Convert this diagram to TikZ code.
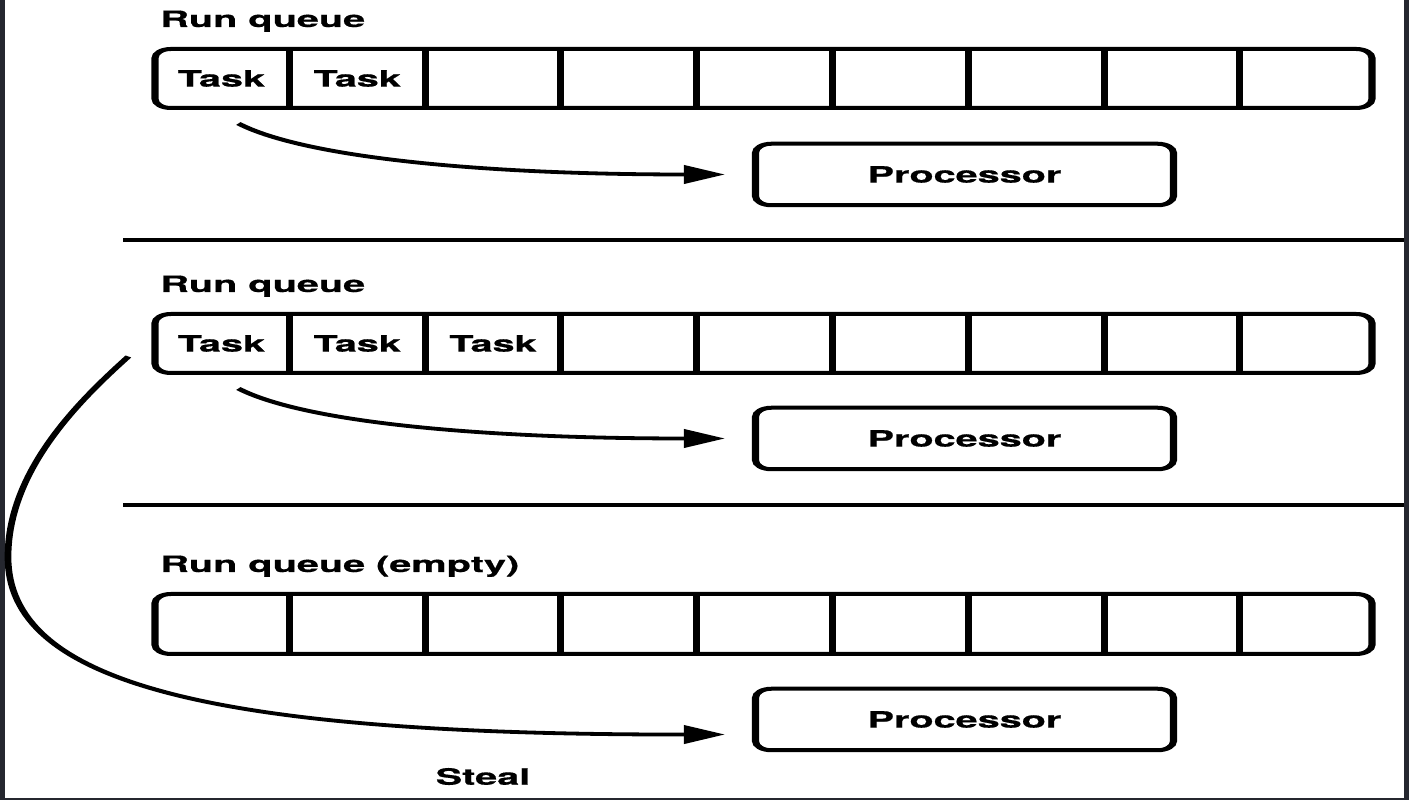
\documentclass[tikz,border=0pt]{standalone}
\usepackage{fontspec}
\setmainfont{TeX Gyre Heros}[BoldFeatures={FakeBold=0.5}]
\usetikzlibrary{arrows.meta,calc}
\definecolor{framecol}{HTML}{25272F}
\tikzset{
  lw/.style={line width=4pt},
  qbox/.style={draw, line width=4pt, rounded corners=9pt},
  txt/.style={font=\bfseries\fontsize{22.5}{27}\selectfont, inner sep=0pt},
  proc/.style={draw, line width=4pt, rounded corners=9pt, minimum width=237.5pt,
    minimum height=61.5pt, inner sep=0pt, font=\bfseries\fontsize{22.5}{27}\selectfont},
  arr/.style={line width=3.8pt, -{Triangle[length=23.3pt,width=18pt]}},
}
\begin{document}
\begin{tikzpicture}
\useasboundingbox (0,0) rectangle (1409pt,800pt);
\fill[framecol] (0,0) rectangle (1409pt,800pt);
\fill[white] (5pt,1.5pt) rectangle (1404pt,800pt);
\begin{scope}[transform canvas={xscale=1.76}, x=0.568182pt, y=-1pt, yshift=800pt]
  % labels
  \node[txt, anchor=base west] (rq1) at (160,27) {Run queue};
  \node[txt, anchor=base west] (rq2) at (160,292) {Run queue};
  \node[txt, anchor=base west] (rq3) at (160,572) {Run queue (empty)};
  % queues
  \draw[qbox] (155,49) rectangle (1372,108);
  \draw[qbox] (155,314) rectangle (1372,373);
  \draw[qbox] (155,594) rectangle (1372,654);
  \foreach \i in {1,...,8} {
    \draw[lw] ({153.5+\i*135.8},49) -- ({153.5+\i*135.8},108);
    \draw[lw] ({153.5+\i*135.8},314) -- ({153.5+\i*135.8},373);
    \draw[lw] ({153.5+\i*135.8},594) -- ({153.5+\i*135.8},654);
  }
  % tasks
  \node[txt] (t11) at (221.4,78.5) {Task};
  \node[txt] (t12) at (357.2,78.5) {Task};
  \node[txt] (t21) at (221.4,343.5) {Task};
  \node[txt] (t22) at (357.2,343.5) {Task};
  \node[txt] (t23) at (493.0,343.5) {Task};
  % dividers
  \draw[lw] (123,240) -- (1404,240);
  \draw[lw] (123,505) -- (1404,505);
  % processors
  \node[proc] (p1) at (964.5,174.5) {Processor};
  \node[proc] (p2) at (964.5,438.5) {Processor};
  \node[proc] (p3) at (964.5,719.5) {Processor};
  % arrows
  \coordinate (s1) at ($(t11)+(17,45)$);
  \coordinate (e1) at ($(p1.west)+(-27,0)$);
  \draw[arr] (s1) .. controls ($(s1)+(62,32)$) and ($(e1)+(-258,0)$) .. (e1);
  \coordinate (s2) at ($(t21)+(17,45)$);
  \coordinate (e2) at ($(p2.west)+(-27,0)$);
  \draw[arr] (s2) .. controls ($(s2)+(62,32)$) and ($(e2)+(-258,0)$) .. (e2);
  \coordinate (s3) at ($(t21)+(-93,13)$);
  \coordinate (m3) at (8,557);
  \coordinate (e3) at ($(p3.west)+(-27,15)$);
  \draw[arr] (s3) .. controls (80,400) and (8,470) .. (m3)
             .. controls (8,680) and (200,735) .. (e3);
  \node[txt] (steal) at (483,776.5) {Steal};
\end{scope}
\end{tikzpicture}
\end{document}
